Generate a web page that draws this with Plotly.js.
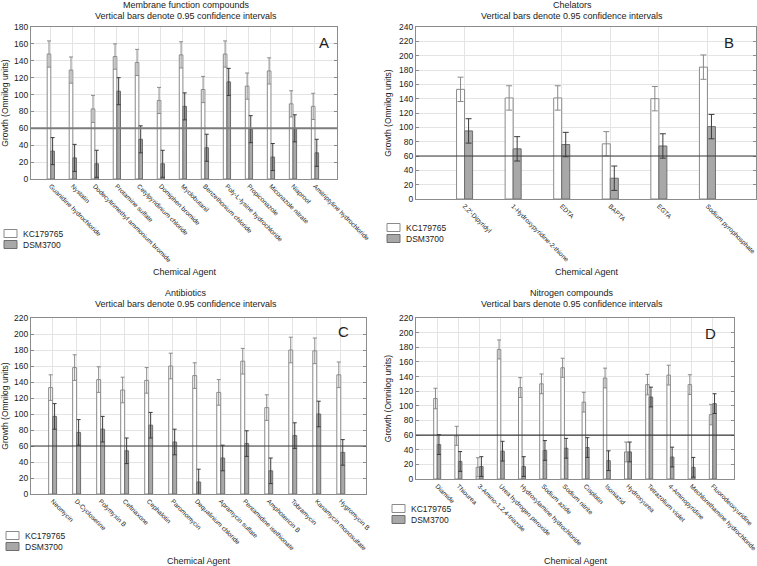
<!DOCTYPE html>
<html>
<head>
<meta charset="utf-8">
<script src="https://cdn.plot.ly/plotly-3.0.1.min.js"></script>
<style>
  html, body { margin: 0; padding: 0; background: #fff; }
  #chart { width: 757px; height: 566px; }
</style>
</head>
<body>
<div id="chart"></div>
<script>
// panel A - membrane function compounds
const membraneAgents = ['Guanidine hydrochloride', 'Nystatin', 'Dodecyltrimethyl ammonium bromide', 'Protamine sulfate',
  'Cetylpyridinium chloride', 'Domiphen bromide', 'Myclobutanil', 'Benzethonium chloride', 'Poly-L-lysine hydrochloride',
  'Propiconazole', 'Miconazole nitrate', 'Niaproof', 'Amitriptyline hydrochloride'];
const membraneKC = [148, 129, 83, 145, 138, 93, 147, 106, 148, 110, 128, 89, 86];
const membraneKCErr = [15.5, 15.5, 16, 15, 15.5, 15.5, 15.5, 15.5, 15.5, 15.5, 15.5, 15.5, 15.5];
const membraneDSM = [33, 25, 18, 104, 47, 18, 86, 37, 115, 59, 26, 60, 31];
const membraneDSMErr = [16, 16, 16, 16, 16, 16, 16, 16, 16, 16, 16, 16, 16];

// panel B - chelators
const chelatorAgents = ["2,2'-Dipyridyl", '1-Hydroxypyridine-2-thione', 'EDTA', 'BAPTA', 'EGTA', 'Sodium pyrophosphate'];
const chelatorKC = [153, 141, 141, 77, 140, 184];
const chelatorKCErr = [17, 17, 17, 17, 17, 17];
const chelatorDSM = [95, 70, 76, 29, 74, 101];
const chelatorDSMErr = [17, 17, 17, 17, 17, 17];

// panel C - antibiotics
const antibioticAgents = ['Neomycin', 'D-Cycloserine', 'Polymyxin B', 'Ceftriaxone', 'Cephalotin', 'Paromomycin',
  'Dequalinium chloride', 'Apramycin sulfate', 'Pentamidine isethionate', 'Amphotericin B', 'Tobramycin',
  'Kanamycin monosulfate', 'Hygromycin B'];
const antibioticKC = [133, 158, 143, 130, 142, 160, 148, 127, 166, 108, 180, 179, 149];
const antibioticKCErr = [16, 16, 16, 16, 16, 16, 16, 16, 16, 16, 16, 16, 16];
const antibioticDSM = [97, 77, 81, 54, 86, 65, 15, 45, 63, 29, 73, 100, 52];
const antibioticDSMErr = [16, 16, 16, 16, 16, 16, 16, 16, 16, 16, 16, 16, 16];

// panel D - nitrogen compounds
const nitrogenAgents = ['Diamide', 'Thiourea', '3-Amino-1,2,4-triazole', 'Urea hydrogen peroxide',
  'Hydroxylamine hydrochloride', 'Sodium azide', 'Sodium nitrite', 'Cisplatin', 'Isoniazid', 'Hydroxyurea',
  'Tetrazolium violet', '4-Aminopyridine', 'Mechlorethamine hydrochloride', 'Fluorodeoxyuridine'];
const nitrogenKC = [110, 59, 16, 177, 125, 130, 152, 105, 138, 37, 129, 142, 129, 88];
const nitrogenKCErr = [14, 13, 13, 13, 13.5, 13.5, 13, 13.5, 13.5, 13.5, 14, 13.5, 13.5, 14];
const nitrogenDSM = [47, 24, 17, 38, 17, 39, 42, 43, 25, 37, 112, 30, 16, 103];
const nitrogenDSMErr = [13.5, 13.5, 13.5, 13.5, 13.5, 13.5, 13.5, 13.5, 13.5, 13.5, 13.5, 13.5, 13.5, 13.5];

const seriesNames = ['KC179765', 'DSM3700'];

const W = 757, H = 566;
const px = v => v / W;
const py = v => 1 - v / H;
const FONT = 'Liberation Sans, Arial, sans-serif';
const KC_FILL = '#ffffff', KC_LINE = '#8a8a8a';
const DSM_FILL = '#a8a8a8', DSM_LINE = '#6e6e6e';

function panelTraces(agents, kc, kcErr, dsm, dsmErr, n, capW) {
  const sfx = n === 1 ? '' : String(n);
  return [
    {
      type: 'bar', name: seriesNames[0], x: agents, y: kc,
      xaxis: 'x' + sfx, yaxis: 'y' + sfx,
      marker: { color: KC_FILL, line: { color: KC_LINE, width: 1 } },
      error_y: { type: 'data', array: kcErr, visible: true, color: '#8a8a8a', thickness: 1, width: capW }
    },
    {
      type: 'bar', name: seriesNames[1], x: agents, y: dsm,
      xaxis: 'x' + sfx, yaxis: 'y' + sfx,
      marker: { color: DSM_FILL, line: { color: DSM_LINE, width: 1 } },
      error_y: { type: 'data', array: dsmErr, visible: true, color: '#3c3c3c', thickness: 1, width: capW }
    }
  ];
}

function xAxis(domain, yName, range) {
  return {
    domain: domain, anchor: yName, type: 'category', range: range,
    showgrid: true, gridcolor: '#e4e4e4', showline: true, linecolor: '#8c8c8c', mirror: true,
    ticks: '', tickangle: 45, tickfont: { size: 6.5, color: '#222' }, automargin: false, fixedrange: true
  };
}

function yAxis(domain, xName, max) {
  return {
    domain: domain, anchor: xName, range: [0, max], dtick: 20,
    showgrid: true, gridcolor: '#e4e4e4', showline: true, linecolor: '#8c8c8c', mirror: 'ticks',
    ticks: 'inside', ticklen: 3, tickcolor: '#8c8c8c', zeroline: false,
    tickfont: { size: 8.5, color: '#222' }, automargin: false,
    title: { text: 'Growth (Omnilog units)', font: { size: 8.5, color: '#222' }, standoff: 6 }
  };
}

function note(text, x, y, size, extra) {
  return Object.assign({
    text: text, xref: 'paper', yref: 'paper', x: px(x), y: py(y),
    xanchor: 'center', yanchor: 'middle', showarrow: false,
    font: { size: size, color: '#222', family: FONT }
  }, extra || {});
}

// small two-entry key drawn next to each panel (one two-line text + two boxes)
const legendShapes = [];
const legendNotes = [];
function addKey(x, y) {
  [[KC_FILL, KC_LINE], [DSM_FILL, DSM_LINE]].forEach((c, i) => {
    const cy = y + i * 11;
    legendShapes.push({
      type: 'rect', xref: 'paper', yref: 'paper',
      x0: px(x), x1: px(x + 13), y0: py(cy + 4), y1: py(cy - 4),
      fillcolor: c[0], line: { color: c[1], width: 1 }
    });
  });
  legendNotes.push(note(seriesNames.join('<br>'), x + 18, y + 5.5, 8.5, { xanchor: 'left', align: 'left', borderpad: 0 }));
}
addKey(4, 233.5);
addKey(387, 227.5);
addKey(6, 535.5);
addKey(392, 508.5);

const data = [
  ...panelTraces(membraneAgents, membraneKC, membraneKCErr, membraneDSM, membraneDSMErr, 1, 2),
  ...panelTraces(chelatorAgents, chelatorKC, chelatorKCErr, chelatorDSM, chelatorDSMErr, 2, 3),
  ...panelTraces(antibioticAgents, antibioticKC, antibioticKCErr, antibioticDSM, antibioticDSMErr, 3, 2),
  ...panelTraces(nitrogenAgents, nitrogenKC, nitrogenKCErr, nitrogenDSM, nitrogenDSMErr, 4, 2)
];

const cutLine = (xr, yr, color, width) => ({
  type: 'line', xref: xr + ' domain', yref: yr, x0: 0, x1: 1, y0: 60, y1: 60,
  line: { color: color, width: width }, layer: 'above'
});

const layout = {
  width: W, height: H,
  margin: { l: 0, r: 0, t: 0, b: 0 },
  paper_bgcolor: '#ffffff', plot_bgcolor: '#ffffff',
  font: { family: FONT, color: '#222' },
  barmode: 'group', bargap: 0.67, bargroupgap: 0,
  showlegend: false,

  xaxis: xAxis([px(31), px(337)], 'y', [-0.9, 13]),
  yaxis: yAxis([py(179), py(27)], 'x', 180),
  xaxis2: xAxis([px(416), px(756)], 'y2', [-1, 6]),
  yaxis2: yAxis([py(199), py(27)], 'x2', 240),
  xaxis3: xAxis([px(31), px(366)], 'y3', [-0.9, 13.05]),
  yaxis3: yAxis([py(494), py(318)], 'x3', 220),
  xaxis4: xAxis([px(416), px(734)], 'y4', [-1, 14]),
  yaxis4: yAxis([py(479), py(318)], 'x4', 220),

  shapes: [
    cutLine('x', 'y', '#7c7c7c', 2),
    cutLine('x2', 'y2', '#3a3a3a', 1.2),
    cutLine('x3', 'y3', '#3a3a3a', 1.2),
    cutLine('x4', 'y4', '#3a3a3a', 1.2),
    ...legendShapes
  ],

  annotations: [
    note('Membrane function compounds', 186, 5, 9),
    note('Vertical bars denote 0.95 confidence intervals', 186, 16, 9),
    note('Chelators', 572, 5, 9),
    note('Vertical bars denote 0.95 confidence intervals', 572, 16, 9),
    note('Antibiotics', 186, 293, 9),
    note('Vertical bars denote 0.95 confidence intervals', 186, 304, 9),
    note('Nitrogen compounds', 572, 293, 9),
    note('Vertical bars denote 0.95 confidence intervals', 572, 304, 9),

    note('Chemical Agent', 185, 272, 9),
    note('Chemical Agent', 587, 272, 9),
    note('Chemical Agent', 199, 561, 9),
    note('Chemical Agent', 576, 561, 9),

    note('A', 324, 43, 15),
    note('B', 729, 43, 15),
    note('C', 343, 332, 15),
    note('D', 710, 333, 15),
    ...legendNotes
  ]
};

Plotly.newPlot('chart', data, layout, { displayModeBar: false, staticPlot: true });
</script>
</body>
</html>
